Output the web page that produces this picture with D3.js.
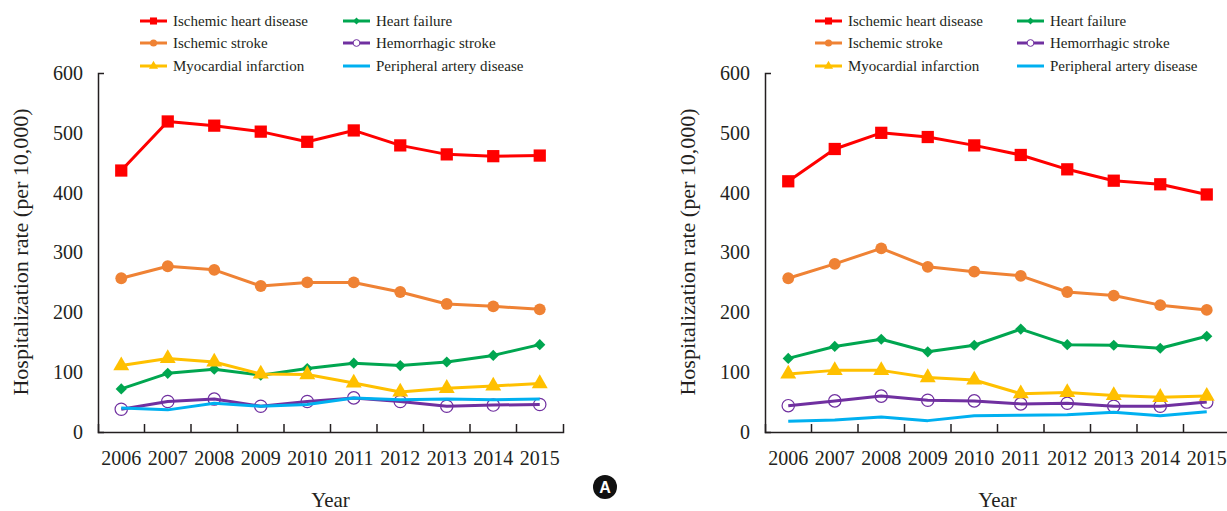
<!DOCTYPE html>
<html>
<head>
<meta charset="utf-8">
<script src="https://cdn.jsdelivr.net/npm/d3@7"></script>
<style>
  body { margin: 0; background: #fff; }
  svg { display: block; font-family: "Liberation Serif", "DejaVu Serif", serif; }
</style>
</head>
<body>
<svg id="chart" width="1227" height="511"></svg>
<script>
const years = ['2006', '2007', '2008', '2009', '2010', '2011', '2012', '2013', '2014', '2015'];
const yTicks = [0, 100, 200, 300, 400, 500, 600];
const seriesNames = ['Ischemic heart disease', 'Heart failure', 'Ischemic stroke',
                     'Hemorrhagic stroke', 'Myocardial infarction', 'Peripheral artery disease'];

// panel A (left)
const ihdA = [437, 519, 512, 502, 485, 504, 479, 464, 461, 462];
const hfA  = [72, 98, 105, 95, 106, 115, 111, 117, 128, 146];
const isA  = [257, 277, 271, 244, 250, 250, 234, 214, 210, 205];
const hsA  = [38, 51, 55, 43, 51, 57, 51, 43, 45, 46];
const miA  = [111, 123, 117, 97, 96, 82, 67, 73, 77, 81];
const padA = [40, 37, 48, 43, 46, 57, 54, 55, 54, 55];

// panel B (right)
const ihdB = [419, 473, 500, 493, 479, 463, 439, 420, 414, 397];
const hfB  = [123, 143, 155, 134, 145, 172, 146, 145, 140, 160];
const isB  = [257, 281, 307, 276, 268, 261, 234, 228, 212, 204];
const hsB  = [44, 52, 60, 53, 52, 47, 48, 43, 43, 50];
const miB  = [97, 103, 103, 91, 87, 64, 66, 61, 58, 60];
const padB = [18, 20, 25, 19, 27, 28, 29, 33, 27, 34];

// drawing styles per series (same order as seriesNames)
const styles = [
  { color: '#ff0000', symbol: d3.symbolSquare,   size: 150, legendSize: 50, hollow: false },
  { color: '#00a650', symbol: d3.symbolDiamond2, size: 80,  legendSize: 30, hollow: false },
  { color: '#ef8234', symbol: d3.symbolCircle,   size: 110, legendSize: 40, hollow: false },
  { color: '#7030a0', symbol: d3.symbolCircle,   size: 120, legendSize: 36, hollow: true },
  { color: '#ffc000', symbol: d3.symbolTriangle, size: 110, legendSize: 36, hollow: false },
  { color: '#00b0f0', symbol: null }
];

const ink = '#231f20';
const svg = d3.select('#chart');

const y = d3.scaleLinear().domain([0, 600]).range([432, 73]);

function drawPanel(axisX, legendCols, series) {
  const plotW = 465;
  const x = d3.scaleBand().domain(years).range([axisX, axisX + plotW]);
  const cx = d => x(d) + x.bandwidth() / 2;

  // y axis
  const gy = svg.append('g')
    .attr('transform', `translate(${axisX},0)`)
    .call(d3.axisLeft(y).tickValues(yTicks).tickSizeInner(0).tickSizeOuter(-6).tickPadding(15));
  gy.select('.domain').attr('stroke', ink).attr('stroke-width', 1.5);
  gy.selectAll('text').attr('font-family', 'Liberation Serif').attr('font-size', 20).attr('fill', ink);

  // x axis
  const gx = svg.append('g')
    .attr('transform', 'translate(0,432)')
    .call(d3.axisBottom(x).tickSizeInner(0).tickSizeOuter(-8).tickPadding(19));
  gx.select('.domain').attr('stroke', ink).attr('stroke-width', 1.5);
  gx.selectAll('text').attr('font-family', 'Liberation Serif').attr('font-size', 20).attr('fill', ink);
  gx.selectAll('.boundary')
    .data(years.slice(0, -1))
    .enter()
    .append('line')
    .attr('class', 'boundary')
    .attr('x1', d => x(d) + x.bandwidth())
    .attr('x2', d => x(d) + x.bandwidth())
    .attr('y1', 0)
    .attr('y2', -8)
    .attr('stroke', ink)
    .attr('stroke-width', 1.5);

  // axis titles
  svg.append('text')
    .attr('transform', `translate(${axisX - 78},252) rotate(-90)`)
    .attr('text-anchor', 'middle')
    .attr('dy', '0.35em')
    .attr('font-size', 22)
    .attr('fill', ink)
    .text('Hospitalization rate (per 10,000)');

  svg.append('text')
    .attr('x', axisX + plotW / 2)
    .attr('y', 507)
    .attr('text-anchor', 'middle')
    .attr('font-size', 21)
    .attr('fill', ink)
    .text('Year');

  // lines and markers
  const line = d3.line()
    .x((v, i) => cx(years[i]))
    .y(v => y(v));

  series.forEach((vals, s) => {
    const st = styles[s];
    const g = svg.append('g');
    g.append('path')
      .datum(vals)
      .attr('d', line)
      .attr('fill', 'none')
      .attr('stroke', st.color)
      .attr('stroke-width', 3)
      .attr('stroke-linejoin', 'round');
    if (st.symbol) {
      g.selectAll('.pt')
        .data(vals)
        .enter()
        .append('path')
        .attr('class', 'pt')
        .attr('transform', (v, i) => `translate(${cx(years[i])},${y(v)})`)
        .attr('d', d3.symbol(st.symbol, st.size))
        .attr('fill', st.hollow ? 'none' : st.color)
        .attr('stroke', st.color)
        .attr('stroke-width', st.hollow ? 1.2 : 0);
    }
  });

  // legend
  const rowsY = [21, 43, 66];
  seriesNames.forEach((name, s) => {
    const st = styles[s];
    const lx = legendCols[s % 2];
    const ly = rowsY[Math.floor(s / 2)];
    const g = svg.append('g');
    g.append('line')
      .attr('x1', lx).attr('x2', lx + 27)
      .attr('y1', ly).attr('y2', ly)
      .attr('stroke', st.color)
      .attr('stroke-width', 3);
    if (st.symbol) {
      g.append('path')
        .attr('transform', `translate(${lx + 13.5},${ly})`)
        .attr('d', d3.symbol(st.symbol, st.legendSize))
        .attr('fill', st.hollow ? '#fff' : st.color)
        .attr('stroke', st.color)
        .attr('stroke-width', st.hollow ? 1 : 0);
    }
    g.append('text')
      .attr('x', lx + 33)
      .attr('y', ly)
      .attr('dy', '0.32em')
      .attr('font-size', 15)
      .attr('fill', ink)
      .text(name);
  });
}

drawPanel(98, [140, 343], [ihdA, hfA, isA, hsA, miA, padA]);
drawPanel(765, [815, 1017], [ihdB, hfB, isB, hsB, miB, padB]);

// panel badge
const badge = svg.append('g').attr('transform', 'translate(605,487)');
badge.append('circle').attr('r', 12).attr('fill', '#111');
badge.append('text')
  .attr('text-anchor', 'middle')
  .attr('dy', '0.36em')
  .attr('font-family', 'Liberation Sans, Arial, sans-serif')
  .attr('font-weight', 'bold')
  .attr('font-size', 16)
  .attr('fill', '#fff')
  .text('A');
</script>
</body>
</html>
